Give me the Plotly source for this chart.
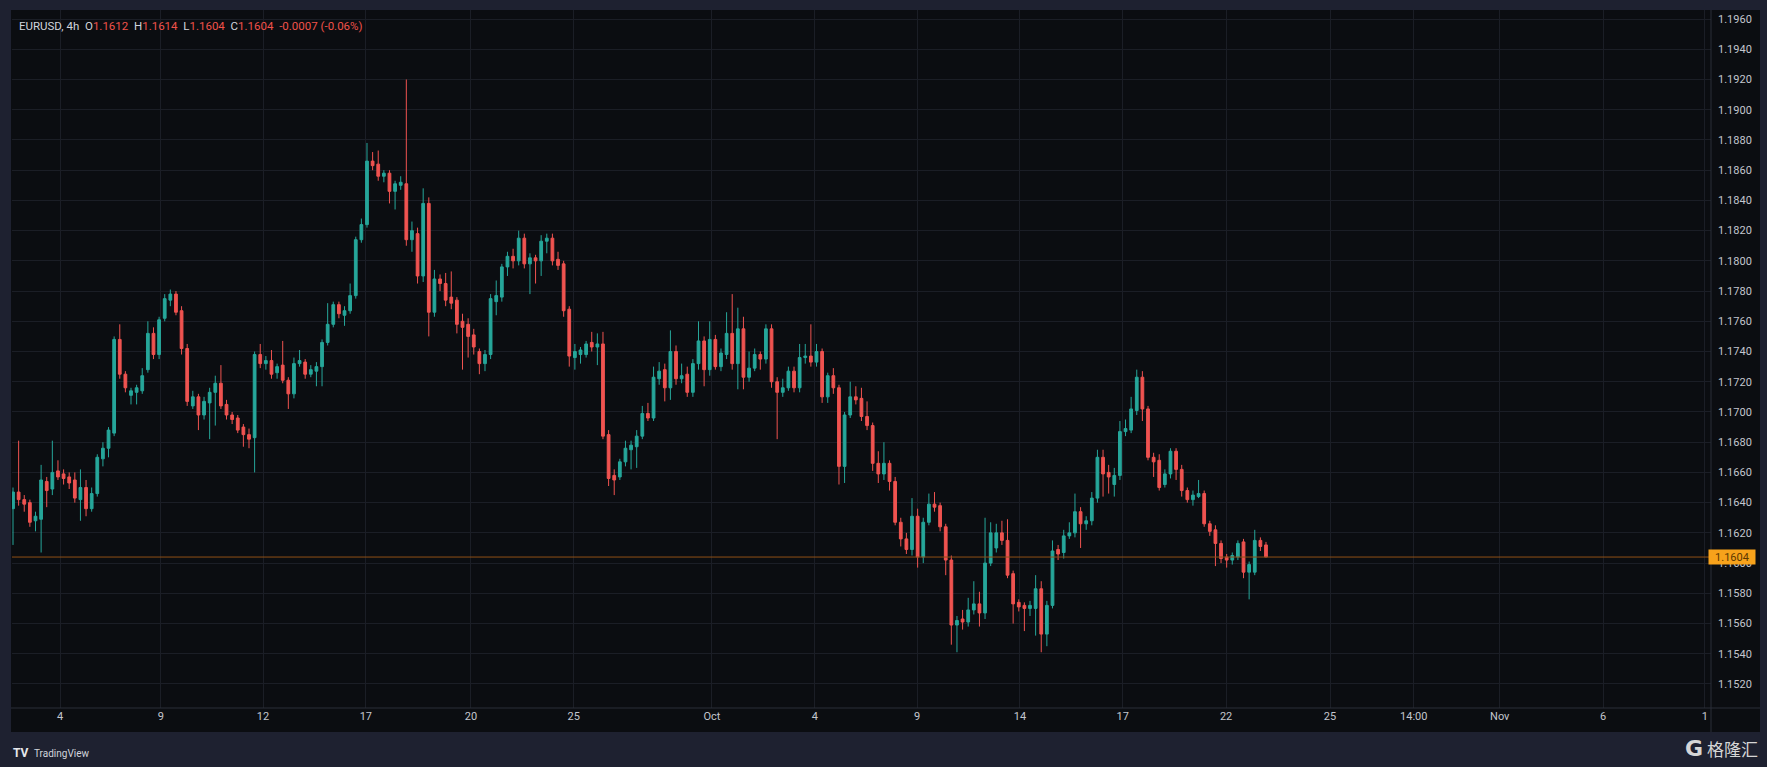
import plotly.graph_objects as go

# ---------------- data (EURUSD, 4h) ----------------
opens = [
    1.1636, 1.1647, 1.1642, 1.1640, 1.1628, 1.1629, 1.1654, 1.1649, 1.1661, 1.1659,
    1.1657, 1.1655, 1.1642, 1.1650, 1.1636, 1.1646, 1.1669, 1.1676, 1.1686, 1.1748,
    1.1725, 1.1711, 1.1713, 1.1714, 1.1728, 1.1752, 1.1738, 1.1762, 1.1774, 1.1778,
    1.1767, 1.1742, 1.1704, 1.1710, 1.1698, 1.1706, 1.1713, 1.1719, 1.1705, 1.1698,
    1.1696, 1.1690, 1.1685, 1.1683, 1.1738, 1.1732, 1.1734, 1.1726, 1.1731, 1.1721,
    1.1712, 1.1732, 1.1733, 1.1725, 1.1727, 1.1730, 1.1746, 1.1758, 1.1771, 1.1764,
    1.1767, 1.1777, 1.1814, 1.1824, 1.1866, 1.1864, 1.1856, 1.1858, 1.1846, 1.1850,
    1.1851, 1.1814, 1.1818, 1.1790, 1.1838, 1.1766, 1.1788, 1.1785, 1.1776, 1.1774,
    1.1760, 1.1758, 1.1751, 1.1740, 1.1732, 1.1738, 1.1773, 1.1776, 1.1796, 1.1803,
    1.1800, 1.1815, 1.1798, 1.1802, 1.1800, 1.1813, 1.1815, 1.1801, 1.1798, 1.1768,
    1.1736, 1.1738, 1.1738, 1.1746, 1.1743, 1.1745, 1.1685, 1.1658, 1.1657, 1.1667,
    1.1675, 1.1677, 1.1684, 1.1699, 1.1696, 1.1722, 1.1728, 1.1716, 1.1740, 1.1722,
    1.1725, 1.1713, 1.1732, 1.1747, 1.1728, 1.1748, 1.1730, 1.1738, 1.1752, 1.1732,
    1.1755, 1.1723, 1.1729, 1.1738, 1.1735, 1.1755, 1.1720, 1.1713, 1.1716, 1.1727,
    1.1716, 1.1736, 1.1737, 1.1733, 1.1740, 1.1710, 1.1724, 1.1716, 1.1664, 1.1698,
    1.1710, 1.1709, 1.1697, 1.1691, 1.1666, 1.1659, 1.1666, 1.1654, 1.1627, 1.1616,
    1.1609, 1.1631, 1.1604, 1.1627, 1.1639, 1.1638, 1.1624, 1.1602, 1.1559, 1.1563,
    1.1561, 1.1569, 1.1573, 1.1567, 1.1600, 1.1610, 1.1620, 1.1615, 1.1593, 1.1574,
    1.1572, 1.1570, 1.1570, 1.1583, 1.1553, 1.1572, 1.1609, 1.1607, 1.1618, 1.1620,
    1.1634, 1.1626, 1.1628, 1.1643, 1.1670, 1.1660, 1.1652, 1.1658, 1.1687, 1.1688,
    1.1701, 1.1723, 1.1702, 1.1670, 1.1668, 1.1652, 1.1659, 1.1674, 1.1662, 1.1648,
    1.1642, 1.1644, 1.1646, 1.1626, 1.1622, 1.1613, 1.1604, 1.1602, 1.1604, 1.1614,
    1.1594, 1.1594, 1.1615, 1.1612,
]
highs = [
    1.1650, 1.1681, 1.1645, 1.1642, 1.1634, 1.1665, 1.1657, 1.1681, 1.1668, 1.1662,
    1.1660, 1.1660, 1.1662, 1.1655, 1.1650, 1.1672, 1.1680, 1.1690, 1.1750, 1.1758,
    1.1727, 1.1716, 1.1718, 1.1729, 1.1760, 1.1756, 1.1763, 1.1778, 1.1781, 1.1780,
    1.1770, 1.1745, 1.1714, 1.1712, 1.1710, 1.1716, 1.1724, 1.1731, 1.1708, 1.1700,
    1.1698, 1.1692, 1.1689, 1.1740, 1.1745, 1.1737, 1.1741, 1.1732, 1.1747, 1.1723,
    1.1736, 1.1741, 1.1735, 1.1731, 1.1733, 1.1748, 1.1772, 1.1773, 1.1773, 1.1770,
    1.1785, 1.1816, 1.1828, 1.1878, 1.1872, 1.1873, 1.1860, 1.1860, 1.1853, 1.1856,
    1.1920, 1.1826, 1.1822, 1.1848, 1.1842, 1.1794, 1.1791, 1.1792, 1.1793, 1.1776,
    1.1765, 1.1762, 1.1755, 1.1742, 1.1741, 1.1778, 1.1787, 1.1798, 1.1806, 1.1808,
    1.1820, 1.1818, 1.1805, 1.1804, 1.1817, 1.1818, 1.1818, 1.1806, 1.1800, 1.1770,
    1.1745, 1.1743, 1.1747, 1.1753, 1.1752, 1.1753, 1.1688, 1.1662, 1.1669, 1.1681,
    1.1681, 1.1688, 1.1704, 1.1706, 1.1730, 1.1733, 1.1732, 1.1754, 1.1744, 1.1732,
    1.1730, 1.1735, 1.1760, 1.1750, 1.1760, 1.1751, 1.1742, 1.1766, 1.1778, 1.1769,
    1.1763, 1.1740, 1.1742, 1.1740, 1.1758, 1.1758, 1.1723, 1.1722, 1.1730, 1.1730,
    1.1745, 1.1745, 1.1758, 1.1745, 1.1742, 1.1726, 1.1729, 1.1718, 1.1700, 1.1720,
    1.1717, 1.1716, 1.1707, 1.1693, 1.1674, 1.1680, 1.1668, 1.1657, 1.1630, 1.1620,
    1.1643, 1.1636, 1.1630, 1.1646, 1.1647, 1.1640, 1.1626, 1.1605, 1.1565, 1.1569,
    1.1577, 1.1588, 1.1581, 1.1630, 1.1627, 1.1626, 1.1628, 1.1629, 1.1595, 1.1576,
    1.1574, 1.1575, 1.1592, 1.1588, 1.1575, 1.1615, 1.1612, 1.1622, 1.1627, 1.1646,
    1.1637, 1.1631, 1.1647, 1.1675, 1.1675, 1.1665, 1.1663, 1.1694, 1.1695, 1.1710,
    1.1728, 1.1727, 1.1704, 1.1673, 1.1672, 1.1662, 1.1676, 1.1676, 1.1665, 1.1650,
    1.1648, 1.1655, 1.1648, 1.1628, 1.1625, 1.1615, 1.1606, 1.1607, 1.1615, 1.1616,
    1.1601, 1.1622, 1.1617, 1.1614,
]
lows = [
    1.1612, 1.1638, 1.1634, 1.1624, 1.1621, 1.1607, 1.1637, 1.1645, 1.1655, 1.1652,
    1.1649, 1.1640, 1.1628, 1.1631, 1.1634, 1.1644, 1.1664, 1.1670, 1.1684, 1.1722,
    1.1713, 1.1705, 1.1705, 1.1712, 1.1726, 1.1735, 1.1735, 1.1760, 1.1770, 1.1764,
    1.1738, 1.1704, 1.1702, 1.1688, 1.1695, 1.1682, 1.1691, 1.1702, 1.1695, 1.1692,
    1.1686, 1.1677, 1.1676, 1.1660, 1.1729, 1.1728, 1.1722, 1.1722, 1.1719, 1.1702,
    1.1709, 1.1730, 1.1722, 1.1723, 1.1717, 1.1717, 1.1744, 1.1756, 1.1762, 1.1757,
    1.1765, 1.1775, 1.1812, 1.1822, 1.1860, 1.1853, 1.1852, 1.1838, 1.1834, 1.1847,
    1.1810, 1.1806, 1.1785, 1.1786, 1.1750, 1.1763, 1.1780, 1.1770, 1.1768, 1.1752,
    1.1728, 1.1736, 1.1738, 1.1725, 1.1727, 1.1735, 1.1764, 1.1773, 1.1790, 1.1795,
    1.1797, 1.1795, 1.1778, 1.1785, 1.1790, 1.1805, 1.1797, 1.1794, 1.1763, 1.1730,
    1.1728, 1.1732, 1.1736, 1.1740, 1.1731, 1.1682, 1.1651, 1.1645, 1.1655, 1.1664,
    1.1662, 1.1663, 1.1682, 1.1694, 1.1694, 1.1718, 1.1707, 1.1708, 1.1718, 1.1719,
    1.1710, 1.1710, 1.1728, 1.1717, 1.1724, 1.1728, 1.1727, 1.1735, 1.1728, 1.1715,
    1.1715, 1.1720, 1.1727, 1.1728, 1.1732, 1.1716, 1.1682, 1.1710, 1.1714, 1.1713,
    1.1713, 1.1732, 1.1730, 1.1730, 1.1706, 1.1706, 1.1712, 1.1652, 1.1653, 1.1696,
    1.1705, 1.1694, 1.1688, 1.1661, 1.1653, 1.1655, 1.1648, 1.1625, 1.1611, 1.1606,
    1.1605, 1.1597, 1.1600, 1.1625, 1.1634, 1.1621, 1.1592, 1.1546, 1.1541, 1.1556,
    1.1558, 1.1566, 1.1558, 1.1563, 1.1598, 1.1607, 1.1612, 1.1590, 1.1560, 1.1568,
    1.1555, 1.1565, 1.1552, 1.1541, 1.1545, 1.1570, 1.1602, 1.1603, 1.1616, 1.1617,
    1.1610, 1.1622, 1.1625, 1.1640, 1.1644, 1.1646, 1.1644, 1.1655, 1.1684, 1.1686,
    1.1698, 1.1694, 1.1668, 1.1657, 1.1648, 1.1650, 1.1656, 1.1655, 1.1644, 1.1640,
    1.1638, 1.1643, 1.1624, 1.1618, 1.1598, 1.1600, 1.1597, 1.1599, 1.1602, 1.1590,
    1.1576, 1.1592, 1.1608, 1.1604,
]
closes = [
    1.1647, 1.1642, 1.1639, 1.1627, 1.1631, 1.1655, 1.1648, 1.1660, 1.1657, 1.1656,
    1.1653, 1.1643, 1.1650, 1.1636, 1.1646, 1.1670, 1.1676, 1.1688, 1.1748, 1.1725,
    1.1716, 1.1714, 1.1716, 1.1724, 1.1752, 1.1738, 1.1761, 1.1775, 1.1778, 1.1766,
    1.1742, 1.1707, 1.1710, 1.1698, 1.1707, 1.1713, 1.1719, 1.1704, 1.1698, 1.1695,
    1.1688, 1.1685, 1.1682, 1.1738, 1.1732, 1.1734, 1.1725, 1.1730, 1.1721, 1.1712,
    1.1732, 1.1734, 1.1725, 1.1728, 1.1730, 1.1746, 1.1758, 1.1771, 1.1765, 1.1767,
    1.1777, 1.1814, 1.1824, 1.1866, 1.1863, 1.1856, 1.1858, 1.1846, 1.1851, 1.1852,
    1.1814, 1.1820, 1.1790, 1.1838, 1.1766, 1.1788, 1.1785, 1.1774, 1.1772, 1.1758,
    1.1756, 1.1750, 1.1743, 1.1732, 1.1738, 1.1775, 1.1777, 1.1796, 1.1803, 1.1800,
    1.1815, 1.1798, 1.1802, 1.1800, 1.1813, 1.1815, 1.1800, 1.1797, 1.1767, 1.1737,
    1.1740, 1.1741, 1.1745, 1.1743, 1.1745, 1.1684, 1.1656, 1.1655, 1.1667, 1.1676,
    1.1678, 1.1684, 1.1699, 1.1696, 1.1723, 1.1727, 1.1716, 1.1740, 1.1722, 1.1724,
    1.1713, 1.1732, 1.1747, 1.1728, 1.1748, 1.1730, 1.1739, 1.1752, 1.1732, 1.1755,
    1.1723, 1.1729, 1.1738, 1.1735, 1.1755, 1.1720, 1.1713, 1.1716, 1.1727, 1.1716,
    1.1736, 1.1737, 1.1733, 1.1740, 1.1710, 1.1724, 1.1716, 1.1664, 1.1698, 1.1710,
    1.1708, 1.1697, 1.1691, 1.1666, 1.1659, 1.1666, 1.1654, 1.1627, 1.1616, 1.1609,
    1.1631, 1.1604, 1.1627, 1.1639, 1.1637, 1.1624, 1.1602, 1.1559, 1.1562, 1.1561,
    1.1569, 1.1573, 1.1567, 1.1600, 1.1620, 1.1620, 1.1615, 1.1592, 1.1573, 1.1571,
    1.1570, 1.1572, 1.1583, 1.1553, 1.1572, 1.1608, 1.1606, 1.1618, 1.1620, 1.1634,
    1.1626, 1.1628, 1.1643, 1.1670, 1.1659, 1.1657, 1.1658, 1.1687, 1.1689, 1.1702,
    1.1723, 1.1702, 1.1670, 1.1667, 1.1650, 1.1659, 1.1674, 1.1662, 1.1648, 1.1642,
    1.1645, 1.1646, 1.1626, 1.1621, 1.1613, 1.1603, 1.1602, 1.1605, 1.1613, 1.1594,
    1.1599, 1.1615, 1.1611, 1.1604,
]

# time-axis labels and their bar positions
tick_labels = ["4", "9", "12", "17", "20", "25", "Oct", "4", "9", "14",
               "17", "22", "25", "14:00", "Nov", "6", "1"]
tick_bars = [8.4, 26.3, 44.5, 62.8, 81.5, 99.8, 124.4, 142.7, 160.9, 179.2,
             197.5, 215.9, 234.4, 249.3, 264.6, 283.0, 301.1]

last_price = 1.1604
legend_vals = {"O": "1.1612", "H": "1.1614", "L": "1.1604", "C": "1.1604"}
legend_change = "-0.0007 (-0.06%)"

# ---------------- styling ----------------
W, H = 1767, 767
PL, PR, PT, PB = 12, 1711, 10, 708          # plot-area pixel box
UP, DN = "#26a69a", "#ef5350"
FRAME = "#1e2130"
BG = "#0b0d11"
GRID = "#1b1e26"
SEP = "#2a2e39"
TXT = "#c3c6ce"
FONT = "Roboto, Arial, sans-serif"


def px(x):
    return (x - PL) / (PR - PL)


def py(y):
    return (PB - y) / (PB - PT)


bars = list(range(len(opens)))

fig = go.Figure(go.Candlestick(
    x=bars, open=opens, high=highs, low=lows, close=closes,
    increasing=dict(line=dict(color=UP, width=1), fillcolor=UP),
    decreasing=dict(line=dict(color=DN, width=1), fillcolor=DN),
    whiskerwidth=0, hoverinfo="skip", showlegend=False,
))

fig.update_layout(
    width=W, height=H,
    margin=dict(l=PL, r=W - PR, t=PT, b=H - PB, pad=0),
    paper_bgcolor=FRAME, plot_bgcolor=BG,
    font=dict(family=FONT, color=TXT, size=11),
    showlegend=False,
    xaxis=dict(
        range=[-0.18, 302.2], rangeslider=dict(visible=False),
        tickmode="array", tickvals=tick_bars, ticktext=tick_labels,
        showgrid=True, gridcolor=GRID, gridwidth=1, zeroline=False,
        showline=False, ticks="", tickfont=dict(size=11, color=TXT),
        fixedrange=True, automargin=False,
    ),
    yaxis=dict(
        range=[1.15041, 1.19660], side="right",
        tick0=1.1520, dtick=0.002, tickformat=".4f",
        showgrid=True, gridcolor=GRID, gridwidth=1, zeroline=False,
        showline=False, ticks="", ticklabelstandoff=6,
        tickfont=dict(size=11, color=TXT), fixedrange=True, automargin=False,
    ),
)

shapes = [
    # black panel incl. axis strips
    dict(type="rect", xref="paper", yref="paper", x0=px(11), x1=px(1760),
         y0=py(732), y1=py(10), fillcolor=BG, line=dict(width=0), layer="below"),
    # separators
    dict(type="line", xref="paper", yref="paper", x0=px(PR), x1=px(PR),
         y0=py(732), y1=py(10), line=dict(color=SEP, width=1)),
    dict(type="line", xref="paper", yref="paper", x0=px(11), x1=px(1760),
         y0=0, y1=0, line=dict(color=SEP, width=1)),
    # last price line
    dict(type="line", xref="paper", yref="y", x0=0, x1=1, y0=last_price,
         y1=last_price, line=dict(color="#8f4f16", width=1)),
]

legend_text = (
    f'<span style="color:#d1d4dc">EURUSD, 4h</span>  '
    + "  ".join(f'<span style="color:#d1d4dc">{k}</span>'
                f'<span style="color:#f0524a">{v}</span>'
                for k, v in legend_vals.items())
    + f'  <span style="color:#f0524a">{legend_change}</span>'
)

annotations = [
    dict(xref="paper", yref="paper", x=px(17), y=py(26), xanchor="left",
         yanchor="middle", text=legend_text, showarrow=False,
         font=dict(size=11.5, family=FONT)),
    # last price tag
    dict(xref="paper", yref="y", x=px(1732), y=last_price, xanchor="center",
         yanchor="middle", text="1.1604", showarrow=False, bgcolor="#f7a21b",
         width=46, height=14, borderpad=0,
         font=dict(size=11, color="#5c3800", family=FONT)),
    # TradingView logo
    dict(xref="paper", yref="paper", x=px(11), y=py(753), xanchor="left",
         yanchor="middle", text="<b>TV</b>", showarrow=False,
         font=dict(size=12, color="#e6e8ec", family=FONT)),
    dict(xref="paper", yref="paper", x=px(32), y=py(753), xanchor="left",
         yanchor="middle", text="TradingView", showarrow=False,
         font=dict(size=10, color="#d1d4dc", family=FONT)),
    # watermark
    dict(xref="paper", yref="paper", x=px(1694), y=py(748), xanchor="center",
         yanchor="middle", text="<b>G</b>", showarrow=False,
         font=dict(size=22, color="#d6d6d6", family="DejaVu Sans")),
    dict(xref="paper", yref="paper", x=px(1733), y=py(748), xanchor="center",
         yanchor="middle", text="格隆汇", showarrow=False,
         font=dict(size=17, color="#d6d6d6", family="Noto Sans CJK SC")),
]

fig.update_layout(shapes=shapes, annotations=annotations)
fig.write_html(
    "out.html",
    config={"displayModeBar": False},
    post_script="document.body.style.margin='0';document.body.style.overflow='hidden';",
)
